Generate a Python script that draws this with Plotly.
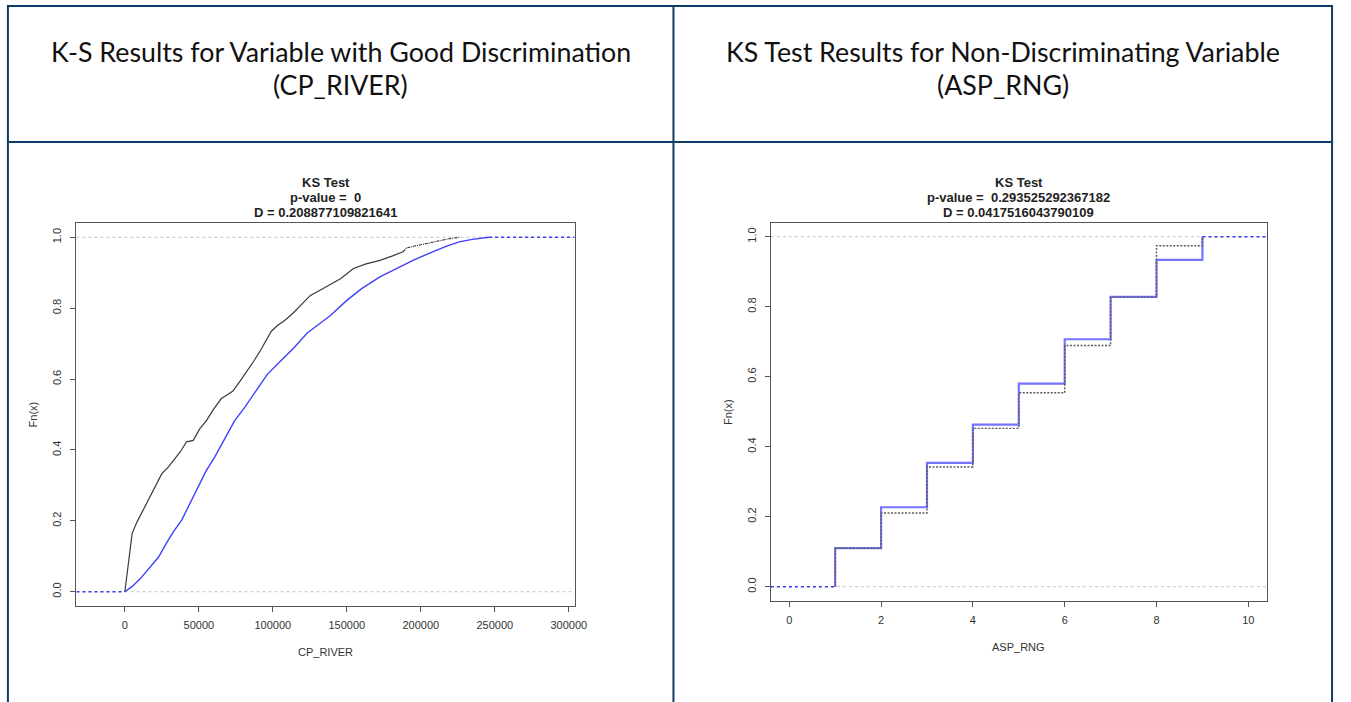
import plotly.graph_objects as go

W, H = 1351, 702

# ---------------- data ----------------
# Left panel: CP_RIVER empirical CDFs (black = first sample, blue = second sample)
CP_BLACK_X = [0, 2500, 4900, 8000, 11600, 15500, 18900, 22000, 25000, 29500, 33300, 37500,
              41700, 46200, 50700, 55000, 60000, 65200, 69000, 73000, 78000, 83000, 87500,
              91500, 95500, 99000, 103100, 108000, 113400, 119000, 125400, 133700, 140000,
              145700, 150000, 154500, 163000, 172300, 180000, 188000, 190200, 200000,
              210300, 218000, 225900]
CP_BLACK_Y = [0.0, 0.09, 0.164, 0.195, 0.225, 0.255, 0.282, 0.31, 0.333, 0.352, 0.371, 0.395,
              0.423, 0.427, 0.46, 0.482, 0.515, 0.545, 0.555, 0.566, 0.595, 0.625, 0.653,
              0.68, 0.709, 0.735, 0.751, 0.765, 0.785, 0.81, 0.836, 0.855, 0.87,
              0.883, 0.897, 0.912, 0.925, 0.935, 0.946, 0.959, 0.97, 0.979,
              0.989, 0.995, 1.0]
CP_BLUE_X = [0, 1500, 5000, 10500, 16000, 22800, 28500, 33000, 38400, 44000, 49600, 54800,
             60700, 67000, 74100, 81100, 89700, 96400, 105100, 114600, 123200, 131000,
             138500, 150000, 160000, 172300, 183000, 194700, 208000, 217400, 225900,
             234800, 246000]
CP_BLUE_Y = [0.0, 0.004, 0.015, 0.037, 0.065, 0.098, 0.14, 0.17, 0.202, 0.25, 0.296, 0.34,
             0.38, 0.43, 0.482, 0.521, 0.573, 0.614, 0.65, 0.69, 0.73, 0.755,
             0.778, 0.822, 0.855, 0.888, 0.91, 0.935, 0.959, 0.975, 0.987,
             0.994, 1.0]
CP_XRANGE = [-32700, 303900]
CP_XTICKS = [0, 50000, 100000, 150000, 200000, 250000, 300000]

# Right panel: ASP_RNG empirical CDFs
ASP_X = [1, 2, 3, 4, 5, 6, 7, 8, 9]
ASP_BLUE_Y = [0.110, 0.227, 0.354, 0.463, 0.580, 0.707, 0.828, 0.934, 1.0]
ASP_BLACK_Y = [0.110, 0.2105, 0.342, 0.4525, 0.554, 0.689, 0.828, 0.974, 1.0]
ASP_XRANGE = [-0.4, 10.4]
ASP_XTICKS = [0, 2, 4, 6, 8, 10]

Y_TICKS = [0.0, 0.2, 0.4, 0.6, 0.8, 1.0]
Y_RANGE = [-0.04, 1.04]

HEADERS = [["K-S Results for Variable with Good Discrimination", "(CP_RIVER)"],
           ["KS Test Results for Non-Discriminating Variable", "(ASP_RNG)"]]
TITLES = [["KS Test", "p-value =  0", "D = 0.208877109821641"],
          ["KS Test", "p-value =  0.293525292367182", "D = 0.0417516043790109"]]
XTITLES = ["CP_RIVER", "ASP_RNG"]

# ---------------- helpers ----------------
def px(x):
    return x / W

def py(y):
    return 1 - y / H

BLUE = "rgba(30,30,255,0.85)"
BLACK = "#3a3a3a"
RFONT = "Liberation Sans, Arial, sans-serif"
TXT = "#333333"
BORDER = "#0E3B66"

fig = go.Figure()

# ---- left panel ----
SPLIT = 39  # black curve turns sparse/dotted near the top
fig.add_trace(go.Scatter(x=CP_BLUE_X, y=CP_BLUE_Y, mode="lines",
                         line=dict(color=BLUE, width=1.4), xaxis="x", yaxis="y",
                         hoverinfo="skip"))
fig.add_trace(go.Scatter(x=CP_BLACK_X[:SPLIT + 1], y=CP_BLACK_Y[:SPLIT + 1], mode="lines",
                         line=dict(color=BLACK, width=1.2), xaxis="x", yaxis="y",
                         hoverinfo="skip"))
fig.add_trace(go.Scatter(x=CP_BLACK_X[SPLIT:], y=CP_BLACK_Y[SPLIT:], mode="lines",
                         line=dict(color=BLACK, width=1.2, dash="3px,1px,1px,1px"),
                         xaxis="x", yaxis="y", hoverinfo="skip"))
fig.add_trace(go.Scatter(x=[CP_XRANGE[0], CP_BLUE_X[0]], y=[0, 0], mode="lines",
                         line=dict(color=BLUE, width=1.5, dash="dot"), xaxis="x", yaxis="y"))
fig.add_trace(go.Scatter(x=[CP_BLUE_X[-1], CP_XRANGE[1]], y=[1, 1], mode="lines",
                         line=dict(color=BLUE, width=1.5, dash="dot"), xaxis="x", yaxis="y"))

# ---- right panel ----
fig.add_trace(go.Scatter(x=[ASP_X[0]] + ASP_X, y=[0] + ASP_BLUE_Y, mode="lines",
                         line=dict(color="rgba(70,70,255,0.75)", width=2.2, shape="hv"),
                         xaxis="x2", yaxis="y2", hoverinfo="skip"))
fig.add_trace(go.Scatter(x=[ASP_X[0]] + ASP_X, y=[0] + ASP_BLACK_Y, mode="lines",
                         line=dict(color="#5a5a5a", width=1.4, shape="hv", dash="2px,1.5px"),
                         xaxis="x2", yaxis="y2", hoverinfo="skip"))
fig.add_trace(go.Scatter(x=[ASP_XRANGE[0], ASP_X[0]], y=[0, 0], mode="lines",
                         line=dict(color=BLUE, width=1.5, dash="dot"), xaxis="x2", yaxis="y2"))
fig.add_trace(go.Scatter(x=[ASP_X[-1], ASP_XRANGE[1]], y=[1, 1], mode="lines",
                         line=dict(color=BLUE, width=1.5, dash="dot"), xaxis="x2", yaxis="y2"))

# ---------------- axes ----------------
def xaxis(domain, rng, ticks, anchor):
    return dict(domain=domain, range=rng, tickmode="array", tickvals=ticks,
                ticktext=[str(t) for t in ticks], ticks="outside", ticklen=5,
                tickcolor="#555", tickwidth=1, showline=True, mirror=True,
                linecolor="#555", linewidth=1, showgrid=False, zeroline=False,
                tickfont=dict(family=RFONT, size=11, color=TXT), ticklabelstandoff=4,
                anchor=anchor, fixedrange=True)

def yaxis(domain, anchor):
    return dict(domain=domain, range=Y_RANGE, tickmode="array", tickvals=Y_TICKS,
                ticktext=[f"{t:.1f}" for t in Y_TICKS], ticks="outside", ticklen=5,
                tickcolor="#555", tickwidth=1, showline=True, mirror=True,
                linecolor="#555", linewidth=1, showgrid=False, zeroline=False,
                tickangle=-90, anchor=anchor, ticklabelstandoff=5,
                tickfont=dict(family=RFONT, size=11, color=TXT), fixedrange=True)

L_BOX = (77.2, 580.2, 223.1, 605.9)
R_BOX = (778.4, 1279.0, 222.7, 600.7)

fig.update_layout(
    width=W, height=H, autosize=False, margin=dict(l=0, r=0, t=0, b=0, pad=0),
    paper_bgcolor="white", plot_bgcolor="white", showlegend=False,
    xaxis=xaxis([px(L_BOX[0]), px(L_BOX[1])], CP_XRANGE, CP_XTICKS, "y"),
    yaxis=yaxis([py(L_BOX[3]), py(L_BOX[2])], "x"),
    xaxis2=xaxis([px(R_BOX[0]), px(R_BOX[1])], ASP_XRANGE, ASP_XTICKS, "y2"),
    yaxis2=yaxis([py(R_BOX[3]), py(R_BOX[2])], "x2"),
)

shapes = []
for xr, yr in (("x domain", "y"), ("x2 domain", "y2")):
    for v in (0, 1):
        shapes.append(dict(type="line", xref=xr, yref=yr, x0=0, x1=1, y0=v, y1=v,
                           line=dict(color="#c4c4c4", width=1, dash="3px,3px"),
                           layer="below"))
for (x0, y0, x1, y1) in [(7, 6, 1346, 6), (7, 142, 1346, 142), (8, 6, 8, 702),
                         (680, 6, 680, 702), (1345, 6, 1345, 702)]:
    shapes.append(dict(type="line", xref="paper", yref="paper", x0=px(x0), x1=px(x1),
                       y0=py(y0), y1=py(y1), line=dict(color=BORDER, width=2)))
fig.update_layout(shapes=shapes)

ann = []
col_centers = [344, 1013]
for c, hdr in zip(col_centers, HEADERS):
    for i, line in enumerate(hdr):
        ann.append(dict(x=px(c), y=py(52 + 33 * i), xref="paper", yref="paper",
                        text=line, showarrow=False, xanchor="center", yanchor="middle",
                        font=dict(family="Lato, Open Sans, sans-serif", size=26.8,
                                  color="#111")))
for b, ttl, xt in zip((L_BOX, R_BOX), TITLES, XTITLES):
    cx = (b[0] + b[1]) / 2
    for i, line in enumerate(ttl):
        ann.append(dict(x=px(cx), y=py(182 + 15.3 * i), xref="paper", yref="paper",
                        text=f"<b>{line}</b>", showarrow=False, xanchor="center",
                        yanchor="middle", font=dict(family=RFONT, size=13, color="#222")))
    ann.append(dict(x=px(cx), y=py(b[3] + 46), xref="paper", yref="paper", text=xt,
                    showarrow=False, xanchor="center", yanchor="middle",
                    font=dict(family=RFONT, size=11, color=TXT)))
    ann.append(dict(x=px(b[0] - 44), y=py((b[2] + b[3]) / 2), xref="paper", yref="paper",
                    text="Fn(x)", textangle=-90, showarrow=False, xanchor="center",
                    yanchor="middle", font=dict(family=RFONT, size=11, color=TXT)))
fig.update_layout(annotations=ann)

fig.write_html("out.html", config={"displayModeBar": False, "responsive": False})
